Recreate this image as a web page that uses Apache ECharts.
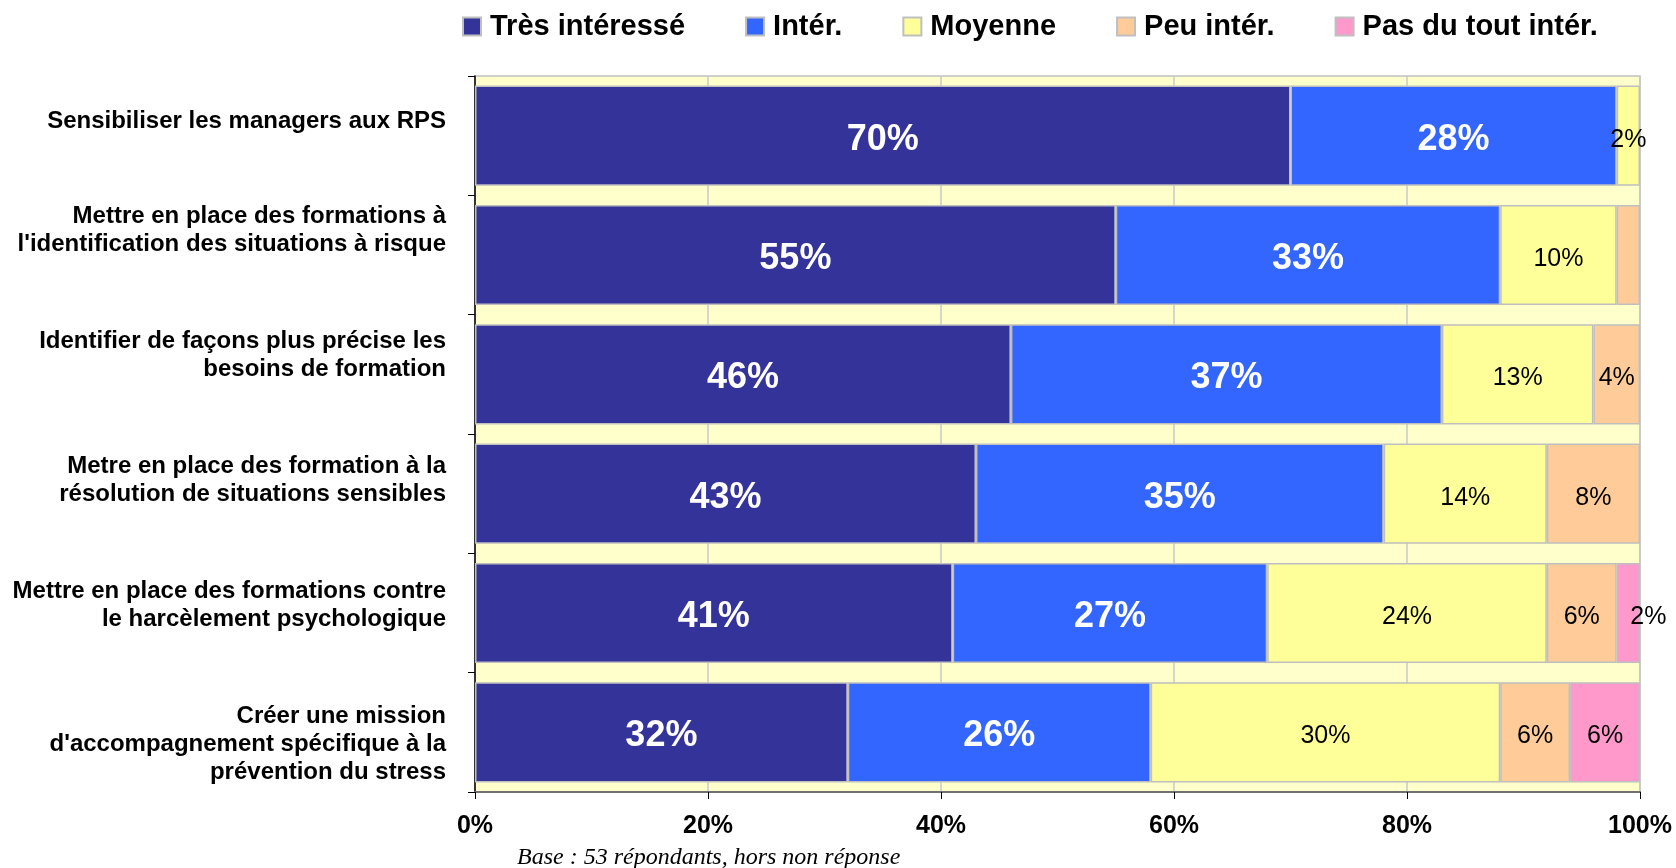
<!DOCTYPE html>
<html>
<head>
<meta charset="utf-8">
<script src="https://cdn.jsdelivr.net/npm/echarts@6/dist/echarts.min.js"></script>
<style>html,body{margin:0;padding:0;background:#fff}#c{width:1676px;height:868px}</style>
</head>
<body>
<div id="c"></div>
<script>
const categories = [
  "Sensibiliser les managers aux RPS",
  "Mettre en place des formations à\nl'identification des situations à risque",
  "Identifier de façons plus précise les\nbesoins de formation",
  "Metre en place des formation à la\nrésolution de situations sensibles",
  "Mettre en place des formations contre\nle harcèlement psychologique",
  "Créer une mission\nd'accompagnement spécifique à la\nprévention du stress"
];
const seriesNames = ["Très intéressé", "Intér.", "Moyenne", "Peu intér.", "Pas du tout intér."];
const tresInteresse = [70, 55, 46, 43, 41, 32];
const interesse     = [28, 33, 37, 35, 27, 26];
const moyenne       = [2, 10, 13, 14, 24, 30];
const peuInteresse  = [0, 2, 4, 8, 6, 6];
const pasDuTout     = [0, 0, 0, 0, 2, 6];
const xTicks = [0, 20, 40, 60, 80, 100];
// labels not shown in the original: [seriesIndex, rowIndex]
const hiddenLabels = [[3, 1]];

const values = [tresInteresse, interesse, moyenne, peuInteresse, pasDuTout];
const colors = ["#333399", "#3366FF", "#FFFF99", "#FFCC99", "#FF99CC"];

// vertical shift of category labels vs. bar centre (style, in px)
const catShift = [-14, -25, -19, -13, -8, 12];
const rich = { t: { fontSize: 24, fontWeight: 'bold', color: '#000', lineHeight: 28, align: 'right' } };
catShift.forEach((d, i) => { rich['s' + i] = { fontSize: 1, lineHeight: Math.abs(d) * 2 }; });

const series = values.map((arr, si) => ({
  name: seriesNames[si],
  type: 'bar',
  stack: 'total',
  barCategoryGap: '16%',
  itemStyle: { color: colors[si], borderColor: '#BFBFBF', borderWidth: 1.5 },
  label: {
    show: true,
    position: 'inside',
    offset: [0, 4],
    formatter: p => p.value + '%',
    color: si < 2 ? '#FFFFFF' : '#000000',
    fontWeight: si < 2 ? 'bold' : 'normal',
    fontSize: si < 2 ? 36 : 25,
    fontFamily: 'Liberation Sans, Arial, sans-serif'
  },
  data: arr.map((v, ri) => {
    const hidden = v === 0 || hiddenLabels.some(h => h[0] === si && h[1] === ri);
    const item = { value: v };
    if (hidden) item.label = { show: false };
    if (si === 4 && ri === 4) item.label = { offset: [20, 4] };
    if (v === 0) item.itemStyle = { borderWidth: 0 };
    return item;
  })
}));

const chart = echarts.init(document.getElementById('c'));
chart.setOption({
  animation: false,
  backgroundColor: '#ffffff',
  textStyle: { fontFamily: 'Liberation Sans, Arial, sans-serif' },
  legend: {
    left: 462,
    top: 12,
    itemWidth: 18,
    itemHeight: 18,
    itemGap: 60,
    padding: 0,
    icon: 'rect',
    itemStyle: { borderColor: '#BFBFBF', borderWidth: 2 },
    textStyle: { fontSize: 29, fontWeight: 'bold', color: '#000', padding: [0, 0, 0, 4] },
    data: seriesNames
  },
  grid: {
    left: 475, right: 36, top: 76, bottom: 76,
    show: true, backgroundColor: '#FFFFCC', borderColor: '#C0C0C0', borderWidth: 1.5
  },
  xAxis: {
    type: 'value',
    min: xTicks[0],
    max: xTicks[xTicks.length - 1],
    interval: xTicks[1] - xTicks[0],
    axisLine: { show: true, lineStyle: { color: '#707070', width: 2 } },
    axisTick: { show: true, length: 7, lineStyle: { color: '#000' } },
    splitLine: { show: true, lineStyle: { color: '#C8C8C8', width: 1.5 } },
    axisLabel: { formatter: '{value}%', fontSize: 25, fontWeight: 'bold', color: '#000', margin: 22 }
  },
  yAxis: {
    type: 'category',
    inverse: true,
    data: categories,
    axisLine: { show: true, lineStyle: { color: '#000', width: 1.5 } },
    axisTick: { show: true, length: 7, lineStyle: { color: '#000' } },
    axisLabel: {
      margin: 29,
      align: 'right',
      rich: rich,
      formatter: (value, idx) => {
        const body = value.split('\n').map(l => '{t|' + l + '}').join('\n');
        const d = catShift[idx];
        if (!d) return body;
        const sp = '{s' + idx + '|\u00a0}';
        return d < 0 ? body + '\n' + sp : sp + '\n' + body;
      }
    }
  },
  graphic: [{
    type: 'text',
    left: 517,
    top: 846,
    style: {
      text: 'Base : 53 répondants, hors non réponse',
      font: 'italic 24px "Liberation Serif", "Times New Roman", serif',
      fill: '#000'
    }
  }],
  series: series
});
</script>
</body>
</html>
